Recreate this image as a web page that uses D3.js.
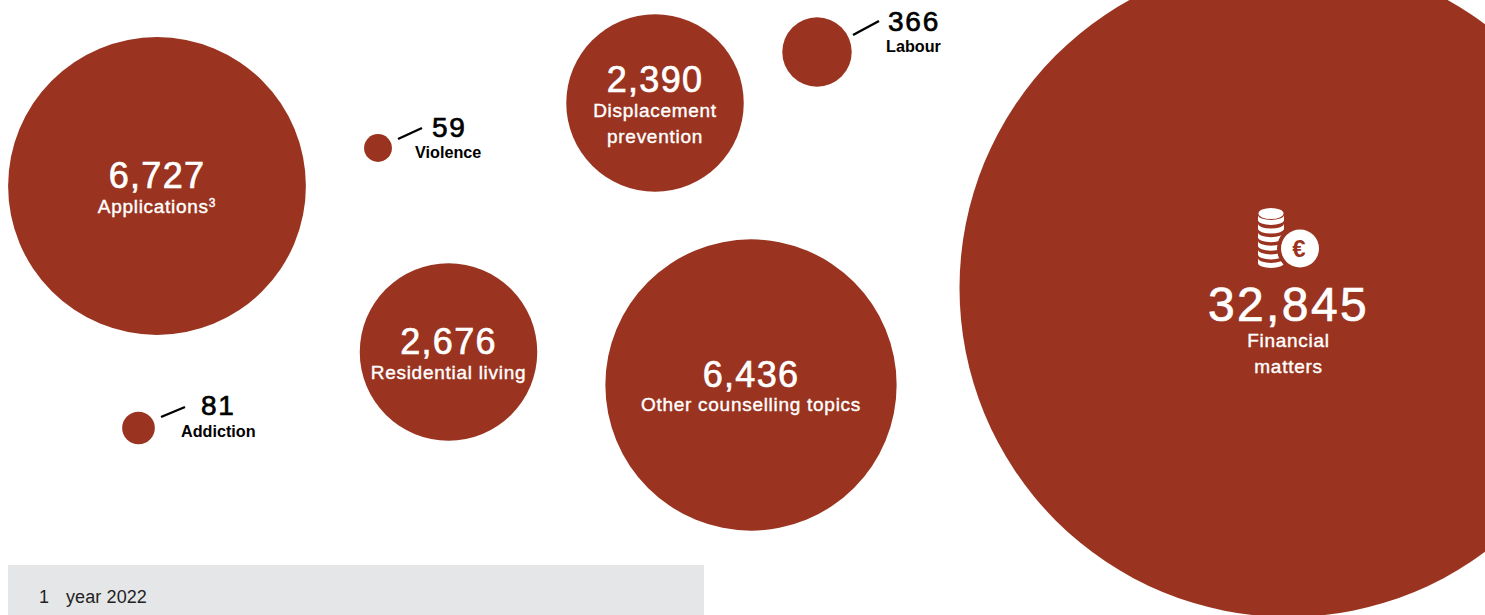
<!DOCTYPE html>
<html><head><meta charset="utf-8">
<script src="https://cdn.jsdelivr.net/npm/d3@7/dist/d3.min.js"></script>
<style>html,body{margin:0;padding:0;background:#fff;overflow:hidden}svg{display:block}text{font-family:"Liberation Sans",Arial,sans-serif}</style>
</head><body><svg id="c" width="1485" height="615"></svg>
<script>
const categories=["Financial matters","Applications","Other counselling topics","Residential living","Displacement prevention","Labour","Addiction","Violence"];
const values=[32845,6727,6436,2676,2390,366,81,59];
// the reference draws Residential living at about the same size as Displacement prevention
const drawnSizes=[32845,6727,6436,2390,2390,366,81,59];
const labelLines=[["Financial","matters"],["Applications"],["Other counselling topics"],["Residential living"],["Displacement","prevention"],["Labour"],["Addiction"],["Violence"]];
const footnote="year 2022";

const layout=[
 {x:1288.5,y:288,inside:true,numY:321,labY:[347,373],num:48},
 {x:157,y:186,inside:true,numY:188,labY:[212.5],num:36},
 {x:751,y:385,inside:true,numY:387,labY:[411],num:36},
 {x:448.5,y:352,inside:true,numY:354,labY:[379],num:36},
 {x:655,y:103,inside:true,numY:92,labY:[117,143],num:36},
 {x:817,y:52,lx:[853,879],ly:[35,21],tx:888,numY:31,labY:52,lab:886},
 {x:138.5,y:428,lx:[161,185],ly:[417,407],tx:201,numY:415,labY:437,lab:181},
 {x:378,y:148,lx:[398,422],ly:[139,128],tx:432,numY:137,labY:158,lab:415}
];
const fmt=d3.format(",");
const svg=d3.select("#c");
const r=d3.scaleSqrt().domain([0,d3.max(drawnSizes)]).range([0,329]);
const red="#9a3420";

svg.append("rect").attr("x",8).attr("y",565).attr("width",696).attr("height",50).attr("fill","#e5e6e8");
const foot=svg.append("text").attr("y",603).attr("fill","#222").attr("font-size",18).attr("letter-spacing",.1);
foot.append("tspan").attr("x",39).text("1");
foot.append("tspan").attr("x",66).text(footnote);

const rows=categories.map((c,i)=>({c,v:values[i],s:drawnSizes[i],lines:labelLines[i],p:layout[i]}));
svg.selectAll("circle.b").data(rows).join("circle").attr("class","b")
 .attr("cx",d=>d.p.x).attr("cy",d=>d.p.y).attr("r",d=>r(d.s)).attr("fill",red);

rows.forEach(d=>{
 const p=d.p;
 if(p.inside){
  svg.append("text").attr("x",p.x).attr("y",p.numY).attr("text-anchor","middle").attr("fill","#fff")
   .attr("stroke","#fff").attr("stroke-width",.7)
   .attr("font-size",p.num).attr("letter-spacing",p.num>40?2.4:1.3).text(fmt(d.v));
  d.lines.forEach((l,j)=>{
   const t=svg.append("text").attr("x",p.x).attr("y",p.labY[j]).attr("text-anchor","middle").attr("fill","#fff")
    .attr("stroke","#fff").attr("stroke-width",.4)
    .attr("font-size",19).attr("letter-spacing",.72).text(l);
   if(l==="Applications"){t.append("tspan").attr("font-size",12).attr("dy",-6).text("3");}
  });
 } else {
  svg.append("line").attr("x1",p.lx[0]).attr("x2",p.lx[1]).attr("y1",p.ly[0]).attr("y2",p.ly[1]).attr("stroke","#000").attr("stroke-width",2.4);
  svg.append("text").attr("x",p.tx).attr("y",p.numY).attr("fill","#000").attr("stroke","#000").attr("stroke-width",.7)
   .attr("font-size",28).attr("letter-spacing",1.8).text(fmt(d.v));
  svg.append("text").attr("x",p.lab).attr("y",p.labY).attr("fill","#000").attr("font-size",16.2).attr("font-weight",700)
   .text(d.c);
 }
});

// coin icon
const icon=svg.append("g").attr("transform","translate(1271,0)");
d3.range(6).forEach(i=>{
 const y=263-i*8.6;
 icon.append("path").attr("d",`M-13,${y-5} v5 a13,5 0 0 0 26,0 v-5 a13,5 0 0 1 -26,0 z`).attr("fill","#fff");
});
icon.append("ellipse").attr("cx",0).attr("cy",213.5).attr("rx",12.5).attr("ry",5.5).attr("fill","#fff");
svg.append("circle").attr("cx",1300).attr("cy",248.5).attr("r",23).attr("fill",red);
svg.append("circle").attr("cx",1300).attr("cy",248.5).attr("r",19).attr("fill","#fff");
svg.append("text").attr("x",1299).attr("y",257).attr("text-anchor","middle").attr("fill",red).attr("font-size",24).attr("font-weight",700).text("€");
</script></body></html>
